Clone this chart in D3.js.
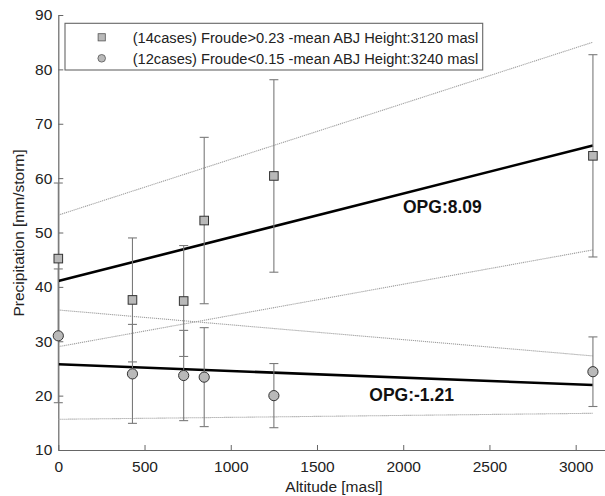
<!DOCTYPE html>
<html><head><meta charset="utf-8">
<script src="https://cdn.jsdelivr.net/npm/d3@7"></script>
<style>body{margin:0;background:#fff}svg{display:block}text{font-family:"Liberation Sans",Arial,sans-serif}</style>
</head><body>
<svg id="c" width="605" height="496"></svg>
<script>
// Data
const altitudes = [0, 430, 727, 846, 1250, 3100];
const highFroudeMean = [45.2, 37.6, 37.4, 52.2, 60.4, 64.1];
const highFroudeErr  = [13.9, 11.4, 10.2, 15.3, 17.7, 18.6];
const lowFroudeMean  = [31.0, 24.0, 23.7, 23.4, 20.0, 24.4];
const lowFroudeErr   = [12.3, 9.1, 8.3, 9.1, 5.9, 6.4];
const fitHigh      = [[0, 41.08], [3100, 66.0]];
const fitHighUpper = [[0, 53.2], [3100, 85.0]];
const fitHighLower = [[0, 29.0], [3100, 46.8]];
const fitLow       = [[0, 25.76], [3100, 21.95]];
const fitLowUpper  = [[0, 35.75], [3100, 27.3]];
const fitLowLower  = [[0, 15.65], [3100, 16.75]];
const xTicks = [0, 500, 1000, 1500, 2000, 2500, 3000];
const yTicks = [10, 20, 30, 40, 50, 60, 70, 80, 90];
const legendLabels = ["(14cases) Froude>0.23 -mean ABJ Height:3120 masl",
                      "(12cases) Froude<0.15 -mean ABJ Height:3240 masl"];
const opgLabels = ["OPG:8.09", "OPG:-1.21"];

const svg = d3.select("#c");
const x = d3.scaleLinear().domain([0, 3170]).range([58.3, 605]);
const y = d3.scaleLinear().domain([10, 90]).range([450, 15]);

const axisColor = "#666";
const gx = svg.append("g").attr("transform", "translate(0,450)")
  .call(d3.axisBottom(x).tickValues(xTicks).tickSizeInner(-5).tickSizeOuter(0).tickPadding(11).tickFormat(d3.format("d")));
const gy = svg.append("g").attr("transform", "translate(58.3,0)")
  .call(d3.axisLeft(y).tickValues(yTicks).tickSizeInner(-5).tickSizeOuter(0).tickPadding(6));
[gx, gy].forEach(g => {
  g.select(".domain").attr("stroke", axisColor).attr("stroke-width", 1.2);
  g.selectAll(".tick line").attr("stroke", axisColor);
  g.selectAll(".tick text").attr("fill", "#222").style("font-size", "15.5px").style("font-family", '"Liberation Sans",Arial,sans-serif');
});

svg.append("text").attr("x", 334).attr("y", 492).attr("text-anchor", "middle")
  .style("font-size", "15.5px").attr("fill", "#222").text("Altitude [masl]");
svg.append("text").attr("transform", "translate(24,233) rotate(-90)").attr("text-anchor", "middle")
  .style("font-size", "15.5px").attr("fill", "#222").text("Precipitation [mm/storm]");

const line = d3.line().x(d => x(d[0])).y(d => y(d[1]));
[fitHighUpper, fitHighLower, fitLowUpper, fitLowLower].forEach(p => {
  svg.append("path").attr("d", line(p)).attr("fill", "none")
    .attr("stroke", "#a0a0a0").attr("stroke-width", 1.1).attr("stroke-dasharray", "1.2,0.8");
});
[fitHigh, fitLow].forEach(p => {
  svg.append("path").attr("d", line(p)).attr("fill", "none")
    .attr("stroke", "#000").attr("stroke-width", 2.6);
});

function errorBars(means, errs) {
  const g = svg.append("g").attr("stroke", "#7a7a7a").attr("stroke-width", 1.1);
  altitudes.forEach((a, i) => {
    const cx = x(a), top = y(means[i] + errs[i]), bot = y(means[i] - errs[i]);
    g.append("line").attr("x1", cx).attr("x2", cx).attr("y1", top).attr("y2", bot);
    g.append("line").attr("x1", cx - 4.5).attr("x2", cx + 4.5).attr("y1", top).attr("y2", top);
    g.append("line").attr("x1", cx - 4.5).attr("x2", cx + 4.5).attr("y1", bot).attr("y2", bot);
  });
}
errorBars(highFroudeMean, highFroudeErr);
errorBars(lowFroudeMean, lowFroudeErr);

const fill = "#b9b9b9", mstroke = "#333";
svg.append("g").selectAll("rect").data(altitudes).join("rect")
  .attr("x", d => x(d) - 4.3).attr("y", (d, i) => y(highFroudeMean[i]) - 4.3)
  .attr("width", 8.6).attr("height", 8.6).attr("fill", fill).attr("stroke", mstroke).attr("stroke-width", 1);
svg.append("g").selectAll("circle").data(altitudes).join("circle")
  .attr("cx", d => x(d)).attr("cy", (d, i) => y(lowFroudeMean[i]))
  .attr("r", 5.1).attr("fill", fill).attr("stroke", mstroke).attr("stroke-width", 1);

// Legend
svg.append("rect").attr("x", 65).attr("y", 23.3).attr("width", 417.7).attr("height", 46.7)
  .attr("fill", "#fff").attr("stroke", axisColor).attr("stroke-width", 1.1);
svg.append("rect").attr("x", 101.7 - 3.6).attr("y", 37.3 - 3.6).attr("width", 7.2).attr("height", 7.2)
  .attr("fill", fill).attr("stroke", "#555").attr("stroke-width", 0.8);
svg.append("circle").attr("cx", 101.7).attr("cy", 58.3).attr("r", 3.8)
  .attr("fill", fill).attr("stroke", "#555").attr("stroke-width", 0.8);
legendLabels.forEach((t, i) => {
  svg.append("text").attr("x", 132.7).attr("y", 43 + i * 21).style("font-size", "14.65px")
    .attr("fill", "#222").text(t);
});

// OPG annotations
svg.append("text").attr("x", 403).attr("y", 213).style("font-size", "17.5px").style("font-weight", "bold")
  .attr("fill", "#111").text(opgLabels[0]);
svg.append("text").attr("x", 369.3).attr("y", 401).style("font-size", "17.5px").style("font-weight", "bold")
  .attr("fill", "#111").text(opgLabels[1]);
</script>
</body></html>
